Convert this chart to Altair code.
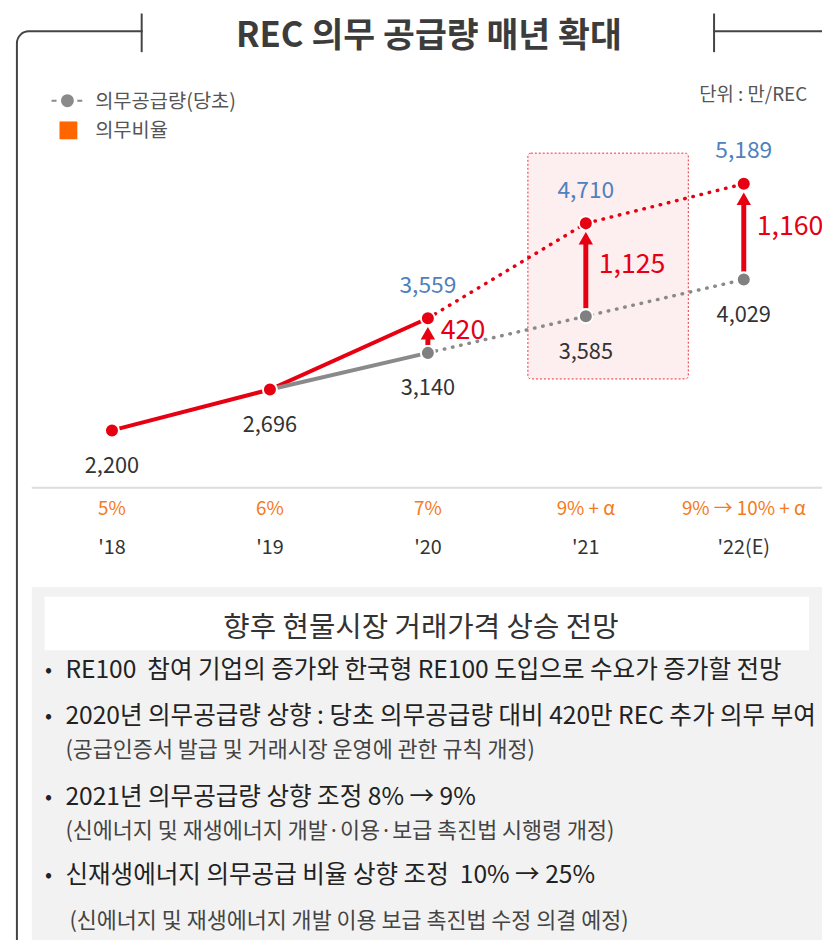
import altair as alt
import pandas as pd

# ---------------- data ----------------
years = ["'18", "'19", "'20", "'21", "'22(E)"]
ratios = ["5%", "6%", "7%", "9% + α", "9% → 10% + α"]
original = [2200, 2696, 3140, 3585, 4029]      # 의무공급량(당초)
revised = [2200, 2696, 3559, 4710, 5189]       # 상향 후 의무공급량
increase = [None, None, 420, 1125, 1160]       # 추가 의무

title_text = "REC 의무 공급량 매년 확대"
legend_labels = ["의무공급량(당초)", "의무비율"]
unit_text = "단위 : 만/REC"
box_title = "향후 현물시장 거래가격 상승 전망"
bullets = [
    "RE100\u00a0 참여 기업의 증가와 한국형 RE100 도입으로 수요가 증가할 전망",
    "2020년 의무공급량 상향 : 당초 의무공급량 대비 420만 REC 추가 의무 부여",
    "2021년 의무공급량 상향 조정 8% → 9%",
    "신재생에너지 의무공급 비율 상향 조정\u00a0 10% → 25%",
]
sub_notes = [
    "(공급인증서 발급 및 거래시장 운영에 관한 규칙 개정)",
    "(신에너지 및 재생에너지 개발·이용·보급 촉진법 시행령 개정)",
    "(신에너지 및 재생에너지 개발 이용 보급 촉진법 수정 의결 예정)",
]

df = pd.DataFrame({
    "idx": list(range(len(years))),
    "year": years,
    "ratio": ratios,
    "original": original,
    "revised": revised,
    "increase": increase,
})

FONT = "Noto Sans CJK KR"
RED = "#E60012"
GRAY = "#8A8A8A"
BLUE = "#4F81BD"
ORANGE = "#F47A20"
DARK = "#333333"

W, H = 822, 932

xs = alt.Scale(domain=[0, 4], range=[105, 743])
ys = alt.Scale(domain=[2200, 5189], range=[422, 173])
X = alt.X("idx:Q", scale=xs, axis=None)

base = alt.Chart(df)
one = alt.Chart(pd.DataFrame({"k": [0]}))

# ---------------- frame / decorations ----------------
frame = one.mark_rect(fill=None, stroke="#444444", strokeWidth=2, cornerRadius=12).encode(
    x=alt.value(9), x2=alt.value(1400), y=alt.value(19), y2=alt.value(1600))
cover = one.mark_rect(fill="white").encode(
    x=alt.value(136), x2=alt.value(712), y=alt.value(10), y2=alt.value(30))
tick_l = one.mark_rule(color="#444444", strokeWidth=2).encode(
    x=alt.value(135), y=alt.value(1), y2=alt.value(40))
tick_r = one.mark_rule(color="#444444", strokeWidth=2).encode(
    x=alt.value(713), y=alt.value(1), y2=alt.value(40))
title = one.mark_text(font=FONT, fontSize=35, fontWeight="bold", color="#3C3C3C",
                      baseline="alphabetic").encode(
    x=alt.value(425), y=alt.value(35), text=alt.value(title_text))

# legend
leg_rule = one.mark_rule(color=GRAY, strokeWidth=2, strokeDash=[5, 21]).encode(
    x=alt.value(44), x2=alt.value(75), y=alt.value(89))
leg_pt = one.mark_circle(color=GRAY, size=170, opacity=1).encode(
    x=alt.value(60), y=alt.value(89))
leg_sq = one.mark_rect(color="#FF6600").encode(
    x=alt.value(52), x2=alt.value(70), y=alt.value(110), y2=alt.value(128))
leg_t1 = one.mark_text(font=FONT, fontSize=20, color="#555555", align="left",
                       baseline="middle").encode(
    x=alt.value(88), y=alt.value(90), text=alt.value(legend_labels[0]))
leg_t2 = one.mark_text(font=FONT, fontSize=20, color="#555555", align="left",
                       baseline="middle").encode(
    x=alt.value(88), y=alt.value(120), text=alt.value(legend_labels[1]))
unit = one.mark_text(font=FONT, fontSize=19, color="#555555", align="right",
                     baseline="middle").encode(
    x=alt.value(807), y=alt.value(83), text=alt.value(unit_text))

# highlight box for '21
hl = one.mark_rect(fill="#FDEEEF", stroke="#E8323C", strokeWidth=1,
                   strokeDash=[2, 2], cornerRadius=3).encode(
    x=alt.value(525), x2=alt.value(687), y=alt.value(142), y2=alt.value(370))

# ---------------- data marks ----------------
red_solid = base.transform_filter("datum.idx <= 2").mark_line(
    color=RED, strokeWidth=4).encode(x=X, y=alt.Y("revised:Q", scale=ys, axis=None))
gray_solid = base.transform_filter("datum.idx >= 1 && datum.idx <= 2").mark_line(
    color=GRAY, strokeWidth=4).encode(x=X, y=alt.Y("original:Q", scale=ys, axis=None))
red_dot = base.transform_filter("datum.idx >= 2").mark_line(
    color=RED, strokeWidth=3.5, strokeDash=[0.5, 8], strokeCap="round").encode(
    x=X, y=alt.Y("revised:Q", scale=ys, axis=None))
gray_dot = base.transform_filter("datum.idx >= 2").mark_line(
    color=GRAY, strokeWidth=3.5, strokeDash=[0.5, 8], strokeCap="round").encode(
    x=X, y=alt.Y("original:Q", scale=ys, axis=None))

inc = base.transform_filter("isValid(datum.increase)")
arrow_rule = inc.mark_rule(color=RED, strokeWidth=5, yOffset=20, y2Offset=-8).encode(
    x=X, y=alt.Y("revised:Q", scale=ys, axis=None), y2="original:Q")
arrow_head = inc.mark_point(shape="triangle-up", filled=True, color=RED, size=210,
                            opacity=1, yOffset=15).encode(
    x=X, y=alt.Y("revised:Q", scale=ys, axis=None))

gray_pts = inc.mark_circle(color="#808080", size=200, opacity=1, stroke="white",
                           strokeWidth=2).encode(
    x=X, y=alt.Y("original:Q", scale=ys, axis=None))
red_pts = base.mark_circle(color=RED, size=200, opacity=1, stroke="white",
                           strokeWidth=2).encode(
    x=X, y=alt.Y("revised:Q", scale=ys, axis=None))

lab_orig = base.mark_text(font=FONT, fontSize=22, color=DARK, baseline="middle",
                          dy=36).encode(
    x=X, y=alt.Y("original:Q", scale=ys, axis=None),
    text=alt.Text("original:Q", format=","))
lab_rev = inc.mark_text(font=FONT, fontSize=23, color=BLUE, baseline="middle",
                        dy=-33).encode(
    x=X, y=alt.Y("revised:Q", scale=ys, axis=None),
    text=alt.Text("revised:Q", format=","))
lab_inc = inc.transform_calculate(mid="(datum.revised + datum.original) / 2").mark_text(
    font=FONT, fontSize=27, color=RED, baseline="middle", align="left",
    dx=13, dy=-5).encode(
    x=X, y=alt.Y("mid:Q", scale=ys, axis=None),
    text=alt.Text("increase:Q", format=","))

baseline_rule = one.mark_rule(color="#DDDDDD", strokeWidth=2).encode(
    x=alt.value(24), x2=alt.value(830), y=alt.value(480))
ratio_lab = base.mark_text(font=FONT, fontSize=19, color=ORANGE,
                           baseline="middle").encode(
    x=X, y=alt.value(501), text="ratio:N")
year_lab = base.mark_text(font=FONT, fontSize=20, color=DARK,
                          baseline="middle").encode(
    x=X, y=alt.value(541), text="year:N")

# ---------------- bottom box ----------------
gbox = one.mark_rect(fill="#F2F2F2").encode(
    x=alt.value(24), x2=alt.value(900), y=alt.value(580), y2=alt.value(1000))
wbanner = one.mark_rect(fill="white").encode(
    x=alt.value(37), x2=alt.value(809), y=alt.value(590), y2=alt.value(644))
banner_t = one.mark_text(font=FONT, fontSize=29, color=DARK, baseline="middle").encode(
    x=alt.value(417), y=alt.value(622), text=alt.value(box_title))

bullet_y = [665, 711, 793, 872]
note_y = [745, 827, 917]
note_x = [58, 58, 62]

bl = pd.DataFrame({"t": bullets, "yy": bullet_y})
nt = pd.DataFrame({"t": sub_notes, "yy": note_y, "xx": note_x})

bullet_dots = alt.Chart(bl).mark_text(font=FONT, fontSize=21, color="#222222",
                                      baseline="middle").encode(
    x=alt.value(41), y=alt.Y("yy:Q", scale=None), text=alt.value("•"))
bullet_txt = alt.Chart(bl).mark_text(font=FONT, fontSize=24.8, color="#222222",
                                     baseline="middle", align="left").encode(
    x=alt.value(58), y=alt.Y("yy:Q", scale=None), text="t:N")
note_txt = alt.Chart(nt).mark_text(font=FONT, fontSize=22, color="#444444",
                                   baseline="middle", align="left").encode(
    x=alt.X("xx:Q", scale=None), y=alt.Y("yy:Q", scale=None), text="t:N")

chart = alt.layer(
    frame, cover, tick_l, tick_r, title,
    leg_rule, leg_pt, leg_sq, leg_t1, leg_t2, unit,
    hl,
    red_solid, gray_solid, red_dot, gray_dot,
    arrow_rule, arrow_head, gray_pts, red_pts,
    lab_orig, lab_rev, lab_inc,
    baseline_rule, ratio_lab, year_lab,
    gbox, wbanner, banner_t, bullet_dots, bullet_txt, note_txt,
).resolve_scale(x="independent", y="independent").properties(
    width=W, height=H, autosize=alt.AutoSizeParams(type="none"), padding=0,
    background="white",
).configure_view(stroke=None).configure_text(font=FONT)

chart.save("out.html", embed_options={"renderer": "svg", "actions": False})
